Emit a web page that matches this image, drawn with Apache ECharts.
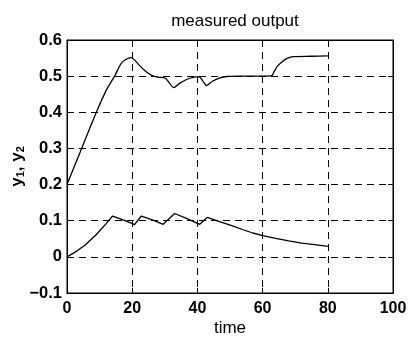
<!DOCTYPE html>
<html>
<head>
<meta charset="utf-8">
<script src="https://cdn.jsdelivr.net/npm/echarts@6/dist/echarts.min.js"></script>
<style>html,body{margin:0;padding:0;background:#fff}#c{width:409px;height:341px}</style>
</head>
<body>
<div id="c"></div>
<script>
const titleText = 'measured output';
const xName = 'time';
const xTicks = [0, 20, 40, 60, 80, 100];
const yTicks = [-0.1, 0, 0.1, 0.2, 0.3, 0.4, 0.5, 0.6];
const y1T = [0, 4.5, 9, 12, 14.6, 16.6, 18, 19.7, 21, 22.5, 24.3, 26, 27.8, 30, 31.5, 32.7, 34.5, 36.5, 39, 40.5, 41.8, 42.8, 44.5, 46.5, 49, 55, 62.7, 63.5, 64.5, 66, 67.5, 69.5, 75, 80];
const y1V = [0.2, 0.3, 0.4, 0.46, 0.5, 0.535, 0.546, 0.551, 0.542, 0.527, 0.512, 0.502, 0.497, 0.495, 0.48, 0.468, 0.48, 0.49, 0.497, 0.498, 0.485, 0.474, 0.485, 0.494, 0.499, 0.5, 0.501, 0.512, 0.527, 0.54, 0.549, 0.554, 0.555, 0.556];
const y2T = [0, 3, 5.6, 9, 12, 14, 17, 19.5, 20.7, 22.8, 26, 29.5, 33, 37, 40.7, 43, 47, 51, 54, 57, 60, 64, 68, 72, 76, 80];
const y2V = [0, 0.016, 0.033, 0.062, 0.092, 0.113, 0.103, 0.094, 0.089, 0.113, 0.103, 0.09, 0.12, 0.105, 0.09, 0.109, 0.097, 0.085, 0.075, 0.066, 0.059, 0.051, 0.044, 0.038, 0.034, 0.029];

const pair = (t, v) => t.map((x, i) => [x, v[i]]);
const font = 'Liberation Sans, Arial, Helvetica, sans-serif';
const chart = echarts.init(document.getElementById('c'), null, {renderer: 'canvas'});
const tickStyle = {show: true, inside: true, length: 5, lineStyle: {color: '#000', width: 1}};
const dashed = {show: true, lineStyle: {color: '#000', type: [7, 5], width: 1}};
const frameLine = {show: true, onZero: false, lineStyle: {color: '#000', width: 1}};
chart.setOption({
  animation: false,
  backgroundColor: '#fff',
  title: {
    text: titleText, left: 230, top: 8, textAlign: 'center',
    textStyle: {fontFamily: font, fontSize: 17, fontWeight: 'normal', color: '#000'}
  },
  grid: {left: 67, right: 16, top: 40, bottom: 48, show: true, borderColor: '#000', borderWidth: 1,
    containLabel: false, outerBoundsMode: 'none'},
  xAxis: [{
    type: 'value', min: xTicks[0], max: xTicks[xTicks.length - 1], interval: 20,
    name: xName, nameLocation: 'middle', nameGap: 27, nameMoveOverlap: false,
    nameTextStyle: {fontFamily: font, fontSize: 17, color: '#000'},
    axisLine: frameLine,
    axisTick: tickStyle,
    axisLabel: {fontFamily: font, fontSize: 16, fontWeight: 'bold', color: '#000', margin: 8},
    splitLine: dashed
  }, {
    type: 'value', position: 'top', min: 0, max: 100, interval: 20,
    axisLine: frameLine, axisTick: tickStyle,
    axisLabel: {show: false}, splitLine: {show: false}
  }],
  yAxis: [{
    type: 'value', min: yTicks[0], max: yTicks[yTicks.length - 1], interval: 0.1,
    name: 'y{s|1}, y{s|2}', nameLocation: 'middle', nameGap: 41, nameRotate: 90, nameMoveOverlap: false,
    nameTextStyle: {fontFamily: font, fontSize: 17, fontWeight: 'bold', color: '#000',
      rich: {s: {fontFamily: font, fontSize: 11, fontWeight: 'bold', color: '#000', verticalAlign: 'bottom', padding: [7, 0, 0, 0]}}},
    axisLine: frameLine,
    axisTick: tickStyle,
    axisLabel: {fontFamily: font, fontSize: 16.5, fontWeight: 'bold', color: '#000', margin: 5,
      formatter: v => { const r = Math.round(v * 10) / 10; return r === 0 ? '0' : (r < 0 ? '\u2212' + Math.abs(r).toFixed(1) : r.toFixed(1)); }},
    splitLine: dashed
  }, {
    type: 'value', position: 'right', min: -0.1, max: 0.6, interval: 0.1,
    axisLine: frameLine, axisTick: tickStyle,
    axisLabel: {show: false}, splitLine: {show: false}
  }],
  series: [
    {type: 'line', data: pair(y1T, y1V), smooth: 0.3, showSymbol: false, lineStyle: {color: '#000', width: 1.3}},
    {type: 'line', data: pair(y2T, y2V), smooth: false, showSymbol: false, lineStyle: {color: '#000', width: 1.3}}
  ]
});
</script>
</body>
</html>
